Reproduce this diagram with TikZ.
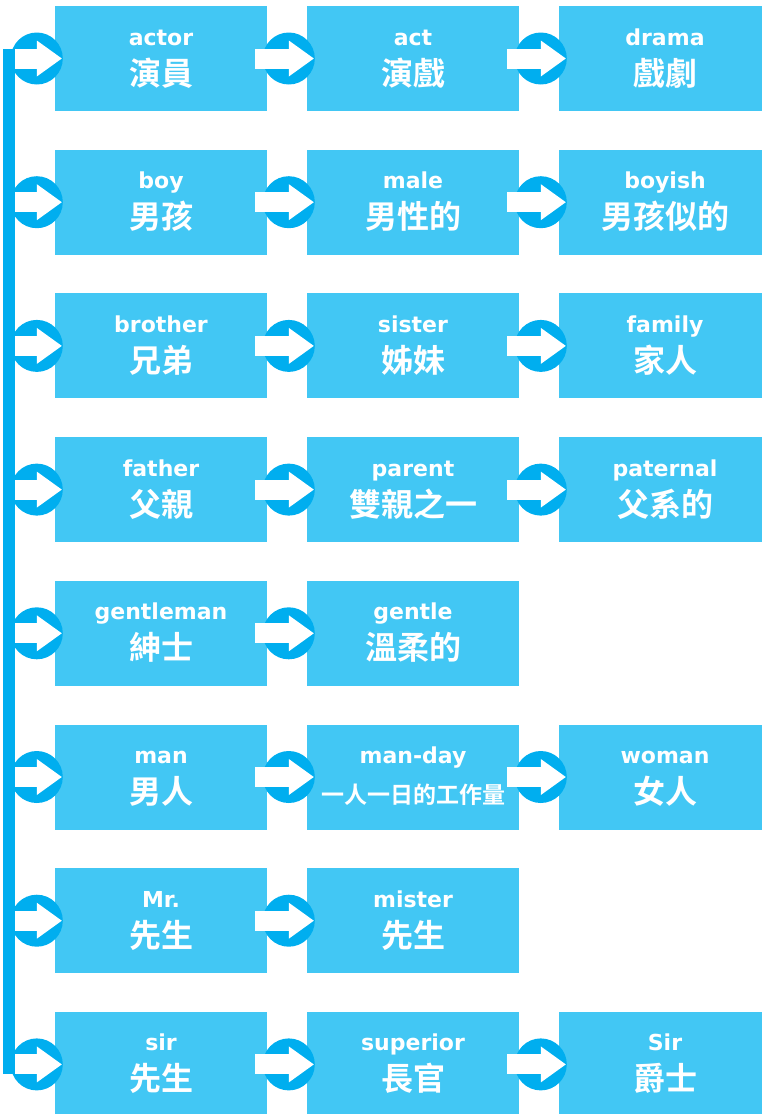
\documentclass[tikz,border=0pt]{standalone}
\usepackage{fontspec}
\newfontfamily\enfamily{DejaVu Sans}
\newfontfamily\zhfamily{Noto Sans CJK TC}[BoldFont={Noto Sans CJK TC Bold}]
\definecolor{boxblue}{RGB}{66,199,244}
\definecolor{ringblue}{RGB}{0,174,239}
\newcommand{\word}[2]{\rule{0pt}{18pt}#1\\{\zhfamily\bfseries\fontsize{32}{40}\selectfont #2\rule[-5pt]{0pt}{5pt}}}

\begin{document}
\begin{tikzpicture}[x=1pt, y=1pt, node distance=252pt, word/.style={rectangle, fill=boxblue, minimum width=212pt, minimum height=105pt, inner sep=0pt, text=white, align=center, font=\enfamily\bfseries\fontsize{22}{40}\selectfont}, spine/.style={draw=ringblue, line width=12pt}, circarrow/.pic={
    \fill[ringblue] (-18pt,0pt) circle (26pt);
    \fill[white] (-52pt,-10pt) rectangle (-18pt,10pt);
    \fill[white] (-18pt,18pt) -- (7pt,0pt) -- (-18pt,-18pt) -- cycle;}]

  \useasboundingbox (0,0) rectangle (762,-1114);

  \node[word] (actor) at (161,-58.5) {\word{actor}{演員}};
  \node[word, right of=actor] (act) {\word{act}{演戲}};
  \node[word, right of=act] (drama) {\word{drama}{戲劇}};

  \node[word, below of=actor, node distance=143.7pt] (boy) {\word{boy}{男孩}};
  \node[word, right of=boy] (male) {\word{male}{男性的}};
  \node[word, right of=male] (boyish) {\word{boyish}{男孩似的}};

  \node[word, below of=boy, node distance=143.7pt] (brother) {\word{brother}{兄弟}};
  \node[word, right of=brother] (sister) {\word{sister}{姊妹}};
  \node[word, right of=sister] (family) {\word{family}{家人}};

  \node[word, below of=brother, node distance=143.7pt] (father) {\word{father}{父親}};
  \node[word, right of=father] (parent) {\word{parent}{雙親之一}};
  \node[word, right of=parent] (paternal) {\word{paternal}{父系的}};

  \node[word, below of=father, node distance=143.7pt] (gentleman) {\word{gentleman}{紳士}};
  \node[word, right of=gentleman] (gentle) {\word{gentle}{溫柔的}};

  \node[word, below of=gentleman, node distance=143.7pt] (man) {\word{man}{男人}};
  \node[word, right of=man] (manday) {\word{man-day}{\fontsize{23}{40}\selectfont 一人一日的工作量}};
  \node[word, right of=manday] (woman) {\word{woman}{女人}};

  \node[word, below of=man, node distance=143.7pt] (mr) {\word{Mr.}{先生}};
  \node[word, right of=mr] (mister) {\word{mister}{先生}};

  \node[word, below of=mr, node distance=143.7pt] (sir) {\word{sir}{先生}};
  \node[word, right of=sir] (superior) {\word{superior}{長官}};
  \node[word, right of=superior] (knight) {\word{Sir}{爵士}};

  % spine points, one per row
  \node[coordinate, left of=actor, node distance=152pt] (s1) {};
  \node[coordinate, left of=boy, node distance=152pt] (s2) {};
  \node[coordinate, left of=brother, node distance=152pt] (s3) {};
  \node[coordinate, left of=father, node distance=152pt] (s4) {};
  \node[coordinate, left of=gentleman, node distance=152pt] (s5) {};
  \node[coordinate, left of=man, node distance=152pt] (s6) {};
  \node[coordinate, left of=mr, node distance=152pt] (s7) {};
  \node[coordinate, left of=sir, node distance=152pt] (s8) {};

  \path (s1) -- pic[pos=1] {circarrow} (actor.west);
  \path (actor) -- pic[pos=1] {circarrow} (act.west);
  \path (act) -- pic[pos=1] {circarrow} (drama.west);
  \path (s2) -- pic[pos=1] {circarrow} (boy.west);
  \path (boy) -- pic[pos=1] {circarrow} (male.west);
  \path (male) -- pic[pos=1] {circarrow} (boyish.west);
  \path (s3) -- pic[pos=1] {circarrow} (brother.west);
  \path (brother) -- pic[pos=1] {circarrow} (sister.west);
  \path (sister) -- pic[pos=1] {circarrow} (family.west);
  \path (s4) -- pic[pos=1] {circarrow} (father.west);
  \path (father) -- pic[pos=1] {circarrow} (parent.west);
  \path (parent) -- pic[pos=1] {circarrow} (paternal.west);
  \path (s5) -- pic[pos=1] {circarrow} (gentleman.west);
  \path (gentleman) -- pic[pos=1] {circarrow} (gentle.west);
  \path (s6) -- pic[pos=1] {circarrow} (man.west);
  \path (man) -- pic[pos=1] {circarrow} (manday.west);
  \path (manday) -- pic[pos=1] {circarrow} (woman.west);
  \path (s7) -- pic[pos=1] {circarrow} (mr.west);
  \path (mr) -- pic[pos=1] {circarrow} (mister.west);
  \path (s8) -- pic[pos=1] {circarrow} (sir.west);
  \path (sir) -- pic[pos=1] {circarrow} (superior.west);
  \path (superior) -- pic[pos=1] {circarrow} (knight.west);

  \draw[spine] ([yshift=10pt]s1) -- ([yshift=-10pt]s8);
\end{tikzpicture}
\end{document}
